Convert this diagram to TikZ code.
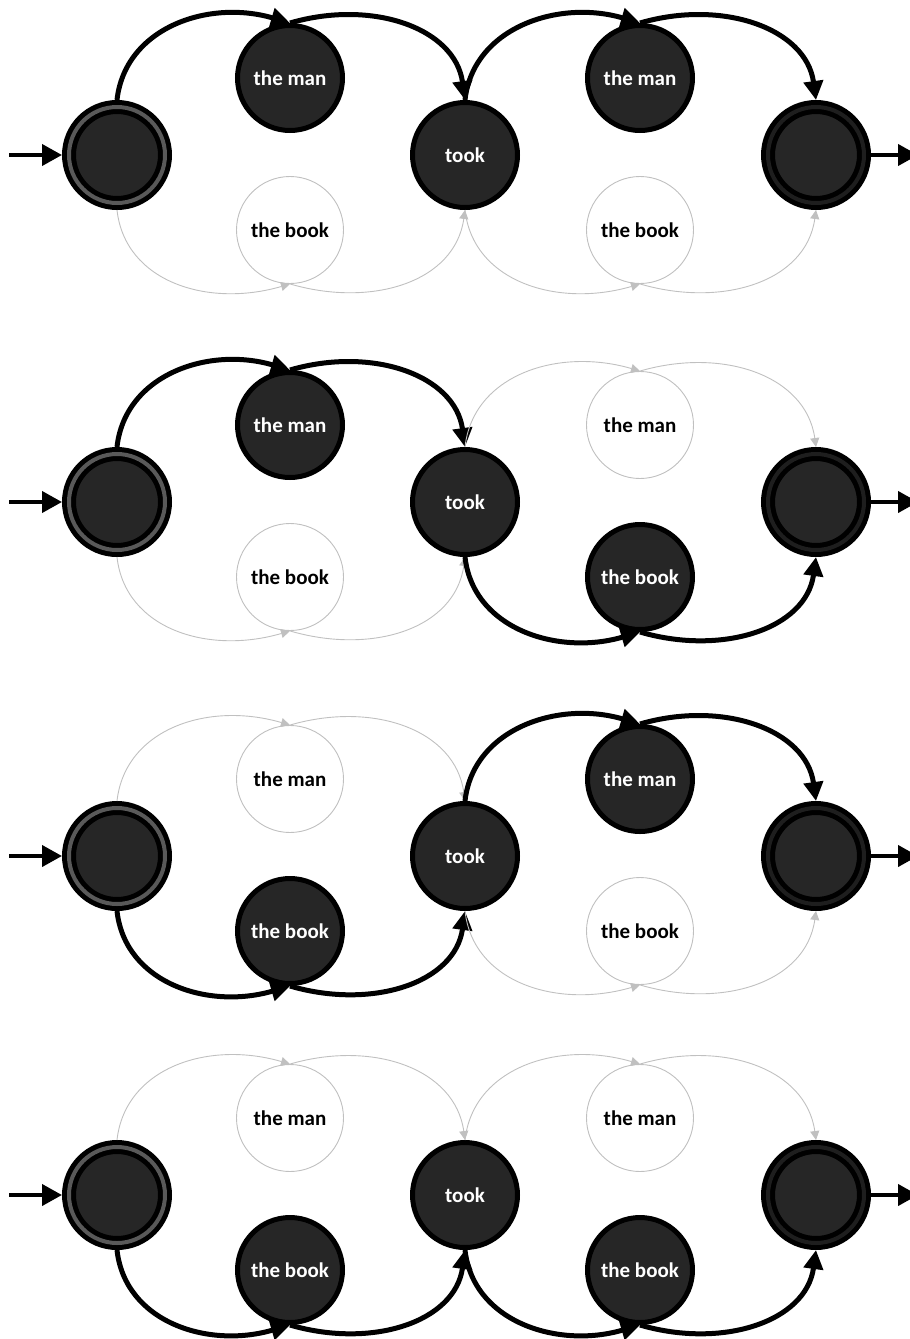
\documentclass[tikz,border=0pt]{standalone}
\usepackage{fontspec}
\setmainfont{Carlito}
\usetikzlibrary{arrows.meta}

\definecolor{nodefill}{HTML}{262626}
\definecolor{faint}{HTML}{C0C0C0}
\definecolor{startring}{HTML}{595959}
\definecolor{endring}{HTML}{1E1E1E}

\tikzset{
  word/.style={circle, inner sep=0pt,
    font=\bfseries\fontsize{21}{25}\selectfont},
  on/.style={word, minimum size=105pt, draw=black, line width=5pt, fill=nodefill, text=white},
  off/.style={word, minimum size=107pt, draw=faint, line width=0.9pt, fill=white, text=black},
  terminal/.style={circle, minimum size=96pt, inner sep=0pt, fill=nodefill,
    draw=black, line width=5pt, double distance=4pt, outer sep=7pt},
  startstate/.style={terminal, double=startring},
  endstate/.style={terminal, double=endring},
  arc-on/.style={draw=black, line width=5pt, -{Triangle[length=19pt,width=19pt]}},
  arc-off/.style={draw=faint, line width=0.9pt, -{Triangle[length=9pt,width=9pt]}},
  feed/.style={draw=black, line width=4pt, -{Triangle[length=20pt,width=21pt]}},
}

% One path through the automaton.
% #1 vertical centre, #2 name prefix, #3..#6 on/off for
% upper-left, lower-left, upper-right, lower-right branch
\newcommand\automaton[6]{%
  \node[startstate] (#2s) at (117,#1) {};
  \node[#3] (#2m1) at (290,#1-77) {the man};
  \node[#4] (#2b1) at (290,#1+75) {the book};
  \node[on] (#2t) at (465,#1) {took};
  \node[#5] (#2m2) at (640,#1-77) {the man};
  \node[#6] (#2b2) at (640,#1+75) {the book};
  \node[endstate] (#2e) at (816,#1) {};
  \coordinate (#2in) at (9,#1);
  \coordinate (#2out) at (918,#1);
  \draw[feed] (#2in) -- (#2s.west);
  \draw[feed] (#2e.east) -- (#2out);
  \draw[arc-#3] (#2s.north) .. controls +(8,-72) and +(-82,-24) .. (#2m1.north);
  \draw[arc-#3] (#2m1.north) .. controls +(82,-24) and +(-10,-72) .. (#2t.north);
  \draw[arc-#4] (#2s.south) .. controls +(8,72) and +(-82,24) .. (#2b1.south);
  \draw[arc-#4] (#2b1.south) .. controls +(82,24) and +(-10,72) .. (#2t.south);
  \draw[arc-#5] (#2t.north) .. controls +(8,-72) and +(-82,-24) .. (#2m2.north);
  \draw[arc-#5] (#2m2.north) .. controls +(82,-24) and +(-10,-72) .. (#2e.north);
  \draw[arc-#6] (#2t.south) .. controls +(8,72) and +(-82,24) .. (#2b2.south);
  \draw[arc-#6] (#2b2.south) .. controls +(82,24) and +(-10,72) .. (#2e.south);
}

\begin{document}
\begin{tikzpicture}[x=1pt, y=-1pt]
  \useasboundingbox (0,0) rectangle (910,1339);
  \automaton{155}{p}{on}{off}{on}{off}
  \automaton{502}{q}{on}{off}{off}{on}
  \automaton{856}{r}{off}{on}{on}{off}
  \automaton{1195}{u}{off}{on}{off}{on}
\end{tikzpicture}
\end{document}
